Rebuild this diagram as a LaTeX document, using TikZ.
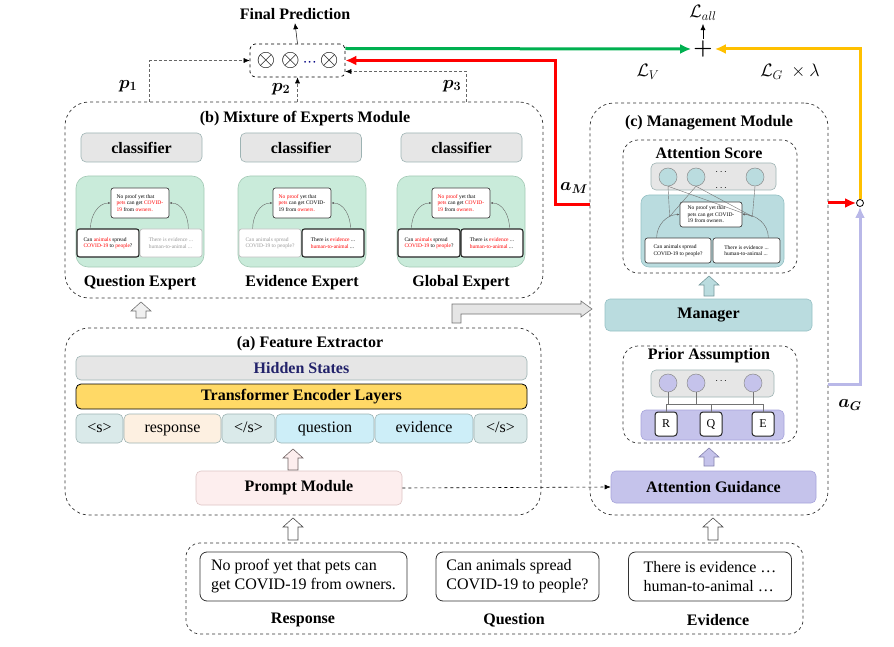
\documentclass[tikz,border=0pt]{standalone}
\usepackage{fix-cm}
\usepackage{fontspec}
\setmainfont{Liberation Serif}
\usepackage{amsmath,bm}
\usetikzlibrary{positioning,arrows.meta}

\definecolor{verde}{HTML}{00B050}
\definecolor{rossoL}{HTML}{FF0000}
\definecolor{giallo}{HTML}{FFC000}
\definecolor{lav}{HTML}{B9B8E8}
\definecolor{lavfill}{HTML}{C5C3EB}
\definecolor{lavbordo}{HTML}{A6A3DA}
\definecolor{tealfill}{HTML}{BADCDF}
\definecolor{tealbordo}{HTML}{95C0C4}
\definecolor{grigio}{HTML}{E6E6E6}
\definecolor{grigiobordo}{HTML}{9DB3B3}
\definecolor{verdechiaro}{HTML}{C9EBDA}
\definecolor{verdebordo}{HTML}{A3C9B5}
\definecolor{oro}{HTML}{FFD966}
\definecolor{pesca}{HTML}{FDF0E1}
\definecolor{ciano}{HTML}{CDEEF8}
\definecolor{tokfill}{HTML}{DAEAEA}
\definecolor{rosa}{HTML}{FDEEEE}
\definecolor{rosabordo}{HTML}{DDC4C4}
\definecolor{blunotte}{HTML}{22226A}

\newcommand{\rosso}[1]{\textcolor{red}{#1}}

\tikzset{
  modulo/.style={draw=black!80, dashed, rounded corners=24, line width=0.7},
  riquadro/.style={draw=black!80, dashed, rounded corners=15, line width=0.7},
  titolo/.style={font=\fontsize{16}{18}\selectfont\bfseries},
  testo/.style={font=\fontsize{16}{19}\selectfont},
  matem/.style={font=\fontsize{18}{20}\selectfont},
  blocco/.style={draw, rounded corners=5, line width=0.6, inner sep=0},
  classif/.style={blocco, draw=grigiobordo, fill=grigio, minimum width=121, minimum height=29, titolo},
  pannello/.style={draw=verdebordo, fill=verdechiaro, rounded corners=12, line width=0.6, minimum width=128, minimum height=91},
  mini/.style={draw=black!75, fill=white, rounded corners=2.5, line width=0.7, align=left, inner sep=1.5, font=\fontsize{5.5}{6.6}\selectfont},
  forte/.style={line width=1.1, draw=black!85},
  sbiadito/.style={draw=black!25, text=black!40},
  arco/.style={black!60, line width=0.4, -{Latex[length=2.5,width=2]}},
  token/.style={blocco, draw=grigiobordo, minimum height=29, text height=11, text depth=3, testo},
  cerchio/.style={circle, draw=black!45, line width=0.5, minimum size=18, inner sep=0},
  lettera/.style={draw=black!85, fill=white, rounded corners=3, line width=1, minimum width=22, minimum height=24, inner sep=0, font=\fontsize{12}{12}\selectfont},
  filo/.style={black!55, line width=0.4},
  pfreccia/.style={densely dashed, black!60, line width=0.5, -{Latex[length=6,width=5,color=black]}},
  perdita/.style={line width=3, -{Latex[length=11,width=10]}},
}

% pannello esperto: nome, x, testo alto, stile sx, testo sx, stile dx, testo dx, etichetta
\newcommand{\esperto}[8]{%
  \node[pannello] (#1) at (#2,221.5) {};
  \node[mini, minimum width=58, minimum height=30] (#1t) at ([yshift=18.5]#1.center) {#3};
  \node[mini, minimum width=62, minimum height=28, #4] (#1l) at ([xshift=-32,yshift=-21.5]#1.center) {#5};
  \node[mini, minimum width=62, minimum height=28, #6] (#1r) at ([xshift=31,yshift=-21.5]#1.center) {#7};
  \draw[arco] ([xshift=14]#1l.north west) to[out=90,in=180] (#1t.west);
  \draw[arco] ([xshift=-14]#1r.north east) to[out=90,in=0] (#1t.east);
  \node[titolo] (#1lab) at (#2,283) {#8};
}

% freccia a blocco verso l'alto: x, y base, y punta, stile
\newcommand{\frecciasu}[4]{%
  \filldraw[#4] ({#1-5},#2) -- ({#1-5},{#3+9}) -- ({#1-10},{#3+9}) -- (#1,#3)
    -- ({#1+10},{#3+9}) -- ({#1+5},{#3+9}) -- ({#1+5},#2) -- cycle;}

\begin{document}
\begin{tikzpicture}[x=1pt, y=-1pt]
\useasboundingbox (0,0) rectangle (894,647);

% moduli
\node[modulo, minimum width=478, minimum height=196] (moe) at (304,200) {};
\node[modulo, minimum width=476, minimum height=187] (fe) at (303,421.5) {};
\node[modulo, minimum width=238, minimum height=412] (mg) at (709,309) {};
\node[modulo, rounded corners=14, minimum width=617, minimum height=91] (inp) at (494.5,588.5) {};
\node[titolo] (tmoe) at (305,119) {(b) Mixture of Experts Module};
\node[titolo] (tfe) at (310,344) {(a) Feature Extractor};
\node[titolo] (tmg) at (709,123) {(c) Management Module};

% previsione finale
\node[titolo] (fp) at (295,14) {Final Prediction};
\node[draw, dashed, rounded corners=5, line width=0.7, minimum width=95, minimum height=33, inner sep=0,
  font=\fontsize{24}{24}\selectfont] (prod) at (297.5,60.5)
  {${\otimes}\hspace{6pt}{\otimes}\hspace{3pt}{\color{blue!50!black}\scriptstyle\cdots}\hspace{3pt}{\otimes}$};
\draw[-{Latex[length=6,width=5]}, line width=0.5] (prod.north) -- (fp.south);
\draw[pfreccia] ([xshift=85]moe.north west) |- (prod.west);
\draw[pfreccia] (prod.south |- moe.north) -- (prod.south);
\draw[pfreccia] ([xshift=402]moe.north west) |- ([yshift=-11]prod.east);
\node[matem] (p1) at (128,86) {$\bm{p_1}$};
\node[matem] (p2) at (281,89) {$\bm{p_2}$};
\node[matem] (p3) at (452,86) {$\bm{p_3}$};

% perdite
\node[inner sep=2, font=\fontsize{22}{22}\selectfont] (plus) at (703,49) {$\bm{+}$};
\node[matem] (lall) at (703,13) {$\mathcal{L}_{all}$};
\draw[-{Latex[length=6,width=5]}, line width=0.5] (plus.north) -- (lall.south);
\node[matem] (lv) at (648,72) {$\mathcal{L}_{V}$};
\node[matem] (lg) at (790,72) {$\mathcal{L}_{G}\ \times\lambda$};
\node[circle, draw, line width=0.8, fill=white, inner sep=0, minimum size=7] (jn) at (860,203) {};
\draw[perdita, verde] ([yshift=12]prod.east) -- (plus.west);
\draw[perdita, giallo] (jn.north) |- (plus.east);
\draw[perdita, rossoL] ([yshift=-102]mg.north west) -- ++(-34,0) |- (prod.east);
\draw[perdita, rossoL] (mg.east |- jn.west) -- (jn.west);
\draw[perdita, lav] ([yshift=-282]mg.north east) -| (jn.south);
\node[matem] (am) at (574,188) {$\bm{a_M}$};
\node[matem] (ag) at (850,405) {$\bm{a_G}$};

% esperti
\node[classif] (cl1) at (141.5,147.5) {classifier};
\node[classif] (cl2) at (301,147.5) {classifier};
\node[classif] (cl3) at (461.5,147.5) {classifier};
\esperto{qe}{140}{No proof yet that\\\rosso{pets} can get \rosso{COVID-}\\\rosso{19} from \rosso{owners.}}
  {forte}{Can \rosso{animals} spread\\\rosso{COVID-19} to \rosso{people}?}
  {sbiadito}{There is evidence ...\\human-to-animal ...}{Question Expert}
\esperto{ee}{302}{\rosso{No proof} yet that\\\rosso{pets} can get COVID-\\19 from \rosso{owners.}}
  {sbiadito}{Can animals spread\\COVID-19 to people?}
  {forte}{There is \rosso{evidence} ...\\\rosso{human-to-animal} ...}{Evidence Expert}
\esperto{ge}{461}{\rosso{No proof} yet that\\\rosso{pets} can get \rosso{COVID-}\\\rosso{19} from \rosso{owners.}}
  {forte}{Can \rosso{animals} spread\\\rosso{COVID-19} to \rosso{people}?}
  {forte}{There is \rosso{evidence} ...\\\rosso{human-to-animal} ...}{Global Expert}

% estrattore
\node[blocco, draw=grigiobordo, fill=grigio, minimum width=451, minimum height=24, titolo, text=blunotte] (hs) at (301.5,368) {Hidden States};
\node[blocco, draw=black, line width=0.8, fill=oro, minimum width=451, minimum height=25, titolo] (tel) at (301.5,396.5) {Transformer Encoder Layers};
\node[token, fill=tokfill, minimum width=47] (t1) at (99.5,428.5) {<s>};
\node[token, fill=pesca, minimum width=97] (t2) at (172.5,428.5) {response};
\node[token, fill=tokfill, minimum width=53] (t3) at (248.5,428.5) {</s>};
\node[token, fill=ciano, minimum width=98] (t4) at (325,428.5) {question};
\node[token, fill=ciano, minimum width=98] (t5) at (424,428.5) {evidence};
\node[token, fill=tokfill, minimum width=53] (t6) at (500.5,428.5) {</s>};
\node[blocco, draw=rosabordo, fill=rosa, minimum width=206, minimum height=34, titolo] (pm) at (299,488) {Prompt Module};
\frecciasu{293}{470}{449}{draw=black!50!rosabordo, fill=rosa, line width=0.6}
\frecciasu{141}{318}{302}{draw=black!55, fill=gray!12, line width=0.6}
\filldraw[draw=black!55, fill=gray!20, line width=0.6] (452,323) -- (452,304) -- (581,304) -- (581,301)
  -- (592,309) -- (581,317) -- (581,314) -- (461,314) -- (461,323) -- cycle;

% gestione
\node[riquadro, minimum width=174, minimum height=133] (as) at (710,206.5) {};
\node[titolo] (tas) at (709,153) {Attention Score};
\node[blocco, draw=grigiobordo, fill=grigio, minimum width=125, minimum height=27] (asg) at (713.5,176.5) {};
\node[blocco, draw=tealbordo, fill=tealfill, rounded corners=8, minimum width=143, minimum height=72] (asb) at (712.5,231) {};
\foreach \i/\x in {1/668, 2/696, 3/755}
  \node[cerchio, fill=tealfill] (ac\i) at (\x,177) {};
\node (ad1) at (722,172) {$\cdots$};
\node (ad2) at (722,188) {$\cdots$};
\node[mini, minimum width=62, minimum height=25] (ast) at (711,214.5) {No proof yet that\\pets can get COVID-\\19 from owners.};
\node[mini, minimum width=66, minimum height=25] (asl) at (678,250.5) {Can animals spread\\COVID-19 to people?};
\node[mini, minimum width=67, minimum height=25] (asr) at (746.5,250.5) {There is evidence ...\\human-to-animal ...};
\draw[arco] ([xshift=12]asl.north west) to[out=90,in=180] (ast.west);
\draw[arco] ([xshift=-12]asr.north east) to[out=90,in=0] (ast.east);
\coordinate (al) at ([xshift=-10,yshift=-2]ast.west);
\coordinate (ar) at ([xshift=10,yshift=-2]ast.east);
\foreach \c/\p in {ac1/al, ac2/al, ac1/ar, ac2/ar, ac3/ar}
  \draw[filo] (\c.south) -- (\p);
\frecciasu{709}{296}{276}{draw=tealbordo!80!black, fill=tealfill, line width=0.6}
\node[blocco, draw=tealbordo, fill=tealfill, minimum width=207, minimum height=32, titolo] (man) at (708.5,315) {Manager};

\node[riquadro, minimum width=174, minimum height=97] (pa) at (710,394.5) {};
\node[titolo] (tpa) at (709,356) {Prior Assumption};
\node[blocco, draw=grigiobordo, fill=grigio, minimum width=123, minimum height=27] (pag) at (712.5,383.5) {};
\node[blocco, draw=lavbordo, fill=lavfill, minimum width=143, minimum height=30] (pab) at (712.5,425) {};
\foreach \i/\x in {1/668, 2/696, 3/753}
  \node[cerchio, fill=lavfill] (pc\i) at (\x,383) {};
\node (pd) at (722,381) {$\cdots$};
\node[lettera] (pr) at (666,424) {R};
\node[lettera] (pq) at (711,424) {Q};
\node[lettera] (pe) at (763,424) {E};
\coordinate (bus) at (0,404);
\foreach \c in {pc1, pc2, pc3}
  \draw[filo] (\c.south) -- (\c.south |- bus);
\draw[filo] (pr.north) -- (pr.north |- bus) -- (pe.north |- bus) -- (pe.north);
\draw[filo] (pq.north) -- (pq.north |- bus);
\frecciasu{709}{466}{448}{draw=lavbordo!80!black, fill=lavfill, line width=0.6}
\node[blocco, draw=lavbordo, fill=lavfill, minimum width=205, minimum height=32, titolo] (agd) at (713.5,487) {Attention Guidance};
\draw[dashed, line width=0.6, -{Latex[length=6,width=5]}] (pm.east) -- (agd.west);

% ingressi
\frecciasu{293}{540}{518}{draw=black!70, fill=white, line width=0.6}
\frecciasu{713}{540}{518}{draw=black!70, fill=white, line width=0.6}
\node[blocco, draw=black!80, line width=0.8, rounded corners=7, minimum width=207, minimum height=49, testo, align=left] (rt) at (303.5,576.5) {No proof yet that pets can\\get COVID-19 from owners.};
\node[blocco, draw=black!80, line width=0.8, rounded corners=7, minimum width=163, minimum height=49, testo, align=left] (qt) at (517.5,576.5) {Can animals spread\\COVID-19 to people?};
\node[blocco, draw=black!80, line width=0.8, rounded corners=7, minimum width=163, minimum height=49, testo, align=left] (et) at (710,576.5) {There is evidence \ldots\\human-to-animal \ldots};
\node[titolo] (lr) at (303,620) {Response};
\node[titolo] (lq) at (514,620) {Question};
\node[titolo] (le) at (718,620) {Evidence};
\end{tikzpicture}
\end{document}
